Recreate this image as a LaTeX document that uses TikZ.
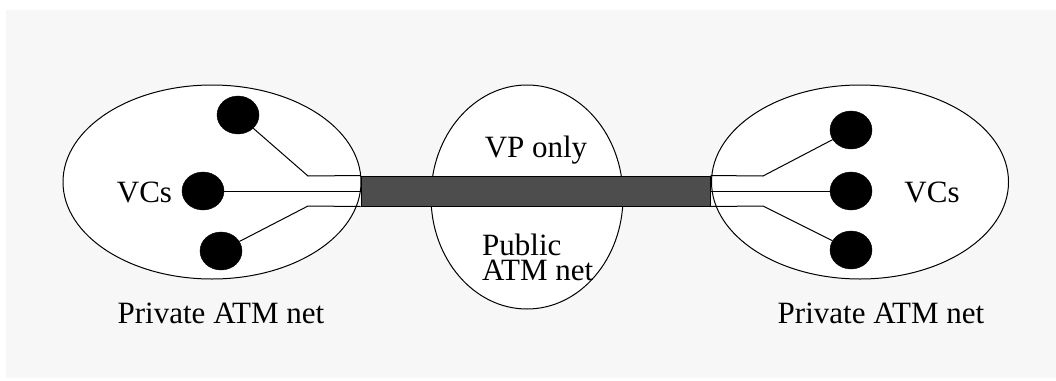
\documentclass[tikz,border=0pt]{standalone}
\usepackage{fontspec}
\setmainfont{Liberation Serif}
\usetikzlibrary{shapes.geometric}
\definecolor{bggray}{HTML}{F7F7F7}
\definecolor{bardark}{HTML}{4D4D4D}
\tikzset{
  net/.style={ellipse, draw=black, fill=white, line width=1pt, inner sep=0pt},
  dot/.style={ellipse, fill=black, draw=black, minimum width=42pt, minimum height=38pt, inner sep=0pt},
  vp/.style={rectangle, draw=black, fill=bardark, line width=1pt, minimum width=349pt, minimum height=30pt, inner sep=0pt},
  wire/.style={draw=black, line width=1pt},
  lbl/.style={font=\fontsize{31}{25}\selectfont, inner sep=0pt, anchor=base}
}
\begin{document}
\begin{tikzpicture}[x=1pt,y=-1pt]
\useasboundingbox (0,0) rectangle (1056,380);
\fill[bggray] (6,10) rectangle (1056,378);
% networks
\node[net, minimum width=298pt, minimum height=194pt] (lnet) at (212,182) {};
\node[net, minimum width=297pt, minimum height=194pt] (rnet) at (860,182) {};
\node[net, minimum width=192pt, minimum height=224pt] (pnet) at (527,197) {};
% VP bar
\node[vp] (bar) at (535.5,191) {};
% left dots
\node[dot] (l1) at (238,115) {};
\node[dot] (l2) at (203,191) {};
\node[dot] (l3) at (221,251) {};
% right dots
\node[dot] (r1) at (851,130) {};
\node[dot] (r2) at (851,191) {};
\node[dot] (r3) at (851,250) {};
% bend coordinates
\coordinate (lb1) at (308,176);
\coordinate (lb3) at (308,206);
\coordinate (rb1) at (763,176);
\coordinate (rb3) at (763,206);
% wires
\draw[wire] (l1) -- (lb1) -- (bar.north west);
\draw[wire] (l2.east) -- (bar.west);
\draw[wire] (l3) -- (lb3) -- (bar.south west);
\draw[wire] (bar.north east) -- (rb1) -- (r1);
\draw[wire] (bar.east) -- (r2.west);
\draw[wire] (bar.south east) -- (rb3) -- (r3);
% labels
\node[lbl] (lvc) at (144.5,202) {VCs};
\node[lbl] (rvc) at (932,202) {VCs};
\node[lbl] (vpo) at (536,157) {VP only};
\node[lbl, anchor=base west, align=left] (pub) at (482,280) {Public\\ATM net};
\node[lbl] (lpriv) at (221,323) {Private ATM net};
\node[lbl] (rpriv) at (881,323) {Private ATM net};
\end{tikzpicture}
\end{document}
